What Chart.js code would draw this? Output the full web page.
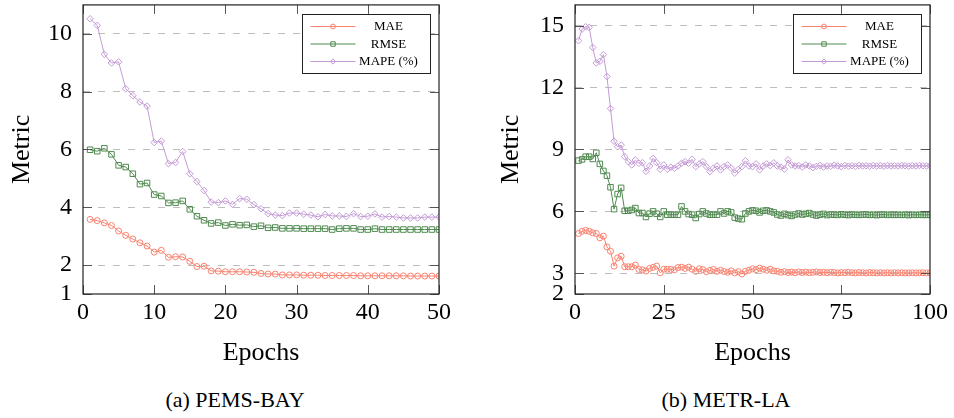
<!DOCTYPE html>
<html>
<head>
<meta charset="utf-8">
<script src="https://cdn.jsdelivr.net/npm/chart.js@4/dist/chart.umd.min.js"></script>
<style>
  html, body { margin: 0; padding: 0; background: #fff; }
  #wrap { position: relative; width: 954px; height: 418px; overflow: hidden; }
  .cv { position: absolute; top: 0; }
  .cap { position: absolute; top: 388px; height: 24px; line-height: 24px; font-family: "Liberation Serif", "Times New Roman", serif; font-size: 22px; color: #000; white-space: nowrap; transform: translateX(-50%); }
</style>
</head>
<body>
<div id="wrap">
  <div class="cv" style="left:0;width:460px;height:380px;"><canvas id="c1" width="460" height="380"></canvas></div>
  <div class="cv" style="left:477px;width:477px;height:380px;"><canvas id="c2" width="477" height="380"></canvas></div>
  <div class="cap" style="left:235px;">(a) PEMS-BAY</div>
  <div class="cap" style="left:726px;">(b) METR-LA</div>
</div>
<script>
// ---------------- data ----------------
const seriesNames = ['MAE', 'RMSE', 'MAPE (%)'];

const epochsPEMS = Array.from({length: 50}, (_, i) => i + 1);
const maePEMS = [3.58,3.54,3.46,3.37,3.18,3.03,2.90,2.77,2.66,2.45,
                 2.51,2.27,2.29,2.28,2.13,1.95,1.96,1.80,1.79,1.77,
                 1.77,1.77,1.76,1.75,1.71,1.69,1.69,1.66,1.66,1.66,
                 1.65,1.65,1.65,1.64,1.64,1.64,1.64,1.64,1.63,1.63,
                 1.63,1.63,1.63,1.63,1.63,1.62,1.62,1.62,1.62,1.62];
const rmsePEMS = [5.99,5.94,6.04,5.83,5.45,5.39,5.16,4.80,4.84,4.44,
                  4.39,4.15,4.16,4.22,3.93,3.69,3.55,3.44,3.47,3.37,
                  3.41,3.38,3.39,3.33,3.36,3.29,3.30,3.27,3.27,3.27,
                  3.26,3.26,3.26,3.26,3.23,3.26,3.27,3.27,3.23,3.23,
                  3.26,3.23,3.23,3.23,3.23,3.23,3.23,3.23,3.23,3.23];
const mapePEMS = [10.52,10.29,9.29,8.99,9.03,8.10,7.86,7.64,7.50,6.24,
                  6.29,5.51,5.55,5.93,5.16,4.89,4.58,4.18,4.16,4.22,
                  4.10,4.30,4.28,4.09,3.95,3.78,3.73,3.71,3.80,3.80,
                  3.76,3.73,3.67,3.75,3.70,3.70,3.68,3.78,3.68,3.69,
                  3.77,3.66,3.68,3.66,3.63,3.63,3.63,3.66,3.66,3.66];

const epochsMETR = Array.from({length: 100}, (_, i) => i + 1);
const maeMETR = [4.93,5.04,5.08,5.04,4.96,4.93,4.72,4.80,4.28,4.07,
                 3.35,3.75,3.83,3.32,3.32,3.32,3.40,3.19,3.17,3.11,
                 3.24,3.29,3.35,3.03,3.20,3.20,3.19,3.17,3.28,3.30,
                 3.24,3.30,3.20,3.10,3.22,3.18,3.08,3.14,3.19,3.10,
                 3.15,3.09,3.05,3.12,3.02,3.08,2.97,3.10,3.15,3.22,
                 3.18,3.25,3.20,3.15,3.20,3.12,3.10,3.05,3.08,3.04,
                 3.06,3.03,3.07,3.04,3.06,3.03,3.05,3.07,3.04,3.05,
                 3.03,3.05,3.04,3.02,3.04,3.03,3.05,3.03,3.02,3.04,
                 3.03,3.02,3.04,3.03,3.02,3.03,3.02,3.03,3.02,3.03,
                 3.02,3.03,3.02,3.02,3.03,3.02,3.02,3.03,3.02,3.02];
const rmseMETR = [8.46,8.52,8.65,8.65,8.54,8.84,8.30,7.96,7.73,7.17,
                  6.11,6.84,7.14,6.03,6.03,6.07,6.16,5.92,5.92,5.73,
                  5.89,6.00,5.89,5.73,6.00,5.84,5.84,5.84,5.84,6.24,
                  6.00,5.87,5.84,5.68,5.87,6.00,5.90,5.84,5.84,5.84,
                  6.00,5.90,6.00,5.95,5.70,5.65,5.62,5.90,6.00,6.05,
                  6.03,5.95,6.03,6.05,6.00,5.95,5.85,5.80,5.88,5.82,
                  5.78,5.85,5.90,5.85,5.88,5.92,5.85,5.80,5.84,5.88,
                  5.82,5.85,5.84,5.83,5.86,5.84,5.82,5.85,5.84,5.83,
                  5.84,5.85,5.83,5.84,5.82,5.84,5.85,5.83,5.84,5.83,
                  5.84,5.83,5.84,5.82,5.84,5.83,5.84,5.83,5.83,5.84];
const mapeMETR = [14.27,14.83,14.94,14.91,13.94,13.19,13.27,13.59,12.53,10.98,
                  9.40,9.13,9.21,8.65,8.41,8.25,8.49,8.33,8.36,7.94,
                  8.20,8.57,8.36,8.04,8.25,8.04,8.14,8.09,8.20,8.33,
                  8.41,8.33,8.52,8.17,8.30,8.41,8.17,7.93,8.09,8.20,
                  8.01,8.17,8.25,8.09,7.85,8.03,8.17,8.45,8.20,8.17,
                  8.30,8.01,8.20,8.30,8.22,8.35,8.20,8.15,8.05,8.50,
                  8.25,8.20,8.22,8.15,8.25,8.20,8.12,8.18,8.22,8.15,
                  8.20,8.18,8.24,8.20,8.17,8.22,8.19,8.21,8.18,8.22,
                  8.20,8.21,8.19,8.22,8.20,8.21,8.19,8.22,8.20,8.21,
                  8.20,8.22,8.21,8.19,8.21,8.20,8.22,8.21,8.20,8.21];

const yTicksPEMS = [1, 2, 4, 6, 8, 10];
const yTicksMETR = [2, 3, 6, 9, 12, 15];
const xTicksPEMS = [0, 10, 20, 30, 40, 50];
const xTicksMETR = [0, 25, 50, 75, 100];

// ---------------- styling ----------------
const SERIF = '"Liberation Serif", "Times New Roman", serif';
const COLORS = ['#f98270', '#4f8a4f', '#c49bd6'];
const STYLES = ['circle', 'rect', 'rectRot'];
const RADII = [3, 3.9, 3.3];

function pts(xs, ys) { return xs.map((x, i) => ({x: x, y: ys[i]})); }

function drawMarker(ctx, style, x, y, r, color) {
  ctx.save();
  ctx.strokeStyle = color; ctx.lineWidth = 1;
  ctx.beginPath();
  if (style === 'circle') {
    ctx.arc(x, y, r, 0, Math.PI * 2);
  } else if (style === 'rect') {
    const s = r * Math.SQRT1_2;
    ctx.rect(x - s, y - s, 2 * s, 2 * s);
  } else {
    ctx.moveTo(x, y - r); ctx.lineTo(x + r, y); ctx.lineTo(x, y + r); ctx.lineTo(x - r, y); ctx.closePath();
  }
  ctx.stroke();
  ctx.restore();
}

const framePlugin = {
  id: 'frameTicks',
  afterDatasetsDraw(chart) {
    const ctx = chart.ctx, ca = chart.chartArea;
    const xs = chart.scales.x, ys = chart.scales.y;
    const TL = 9;
    ctx.save();
    ctx.strokeStyle = '#555'; ctx.lineWidth = 1;
    ctx.beginPath();
    xs.ticks.forEach(t => {
      const px = Math.round(xs.getPixelForValue(t.value)) + 0.5;
      ctx.moveTo(px, ca.bottom); ctx.lineTo(px, ca.bottom - TL);
      ctx.moveTo(px, ca.top); ctx.lineTo(px, ca.top + TL);
    });
    ys.ticks.forEach(t => {
      const py = Math.round(ys.getPixelForValue(t.value)) + 0.5;
      ctx.moveTo(ca.left, py); ctx.lineTo(ca.left + TL, py);
      ctx.moveTo(ca.right, py); ctx.lineTo(ca.right - TL, py);
    });
    ctx.stroke();
    ctx.strokeStyle = '#222'; ctx.lineWidth = 1.2;
    ctx.strokeRect(ca.left, ca.top, ca.right - ca.left, ca.bottom - ca.top);
    ctx.restore();
  }
};

const legendPlugin = {
  id: 'boxLegend',
  afterDatasetsDraw(chart) {
    const ctx = chart.ctx, ca = chart.chartArea;
    const w = 128, h = 59;
    const x0 = Math.round(ca.right - 9 - w) + 0.5, y0 = Math.round(ca.top + 9) + 0.5;
    ctx.save();
    ctx.fillStyle = '#fff'; ctx.fillRect(x0, y0, w, h);
    ctx.strokeStyle = '#222'; ctx.lineWidth = 1; ctx.strokeRect(x0, y0, w, h);
    chart.data.datasets.forEach((ds, i) => {
      const yy = y0 + 12 + i * 17.5;
      ctx.strokeStyle = ds.borderColor; ctx.lineWidth = 1;
      ctx.beginPath(); ctx.moveTo(x0 + 8, yy); ctx.lineTo(x0 + 53, yy); ctx.stroke();
      drawMarker(ctx, ds.pointStyle, x0 + 30.5, yy, ds.pointRadius * 0.8, ds.borderColor);
      ctx.fillStyle = '#000';
      ctx.font = '13px ' + SERIF;
      ctx.textAlign = 'center'; ctx.textBaseline = 'middle';
      ctx.fillText(ds.label, x0 + 86, yy + 0.5);
    });
    ctx.restore();
  }
};

function makeChart(id, xsArr, series, xTicks, yTicks, xMax, yMin, yMax, yAxisWidth, padRight, titlePadTop) {
  const datasets = series.map((vals, i) => ({
    label: seriesNames[i],
    data: pts(xsArr, vals),
    borderColor: COLORS[i],
    backgroundColor: 'rgba(0,0,0,0)',
    borderWidth: 1,
    tension: 0,
    pointStyle: STYLES[i],
    pointRadius: RADII[i],
    pointBorderWidth: 1,
    pointBackgroundColor: 'rgba(0,0,0,0)',
    pointBorderColor: COLORS[i],
    pointHoverRadius: RADII[i]
  }));
  return new Chart(document.getElementById(id), {
    type: 'line',
    data: { datasets: datasets },
    plugins: [framePlugin, legendPlugin],
    options: {
      responsive: false,
      animation: false,
      events: [],
      layout: { padding: { left: 0, top: 4, right: padRight, bottom: 0 } },
      plugins: { legend: { display: false }, tooltip: { enabled: false } },
      scales: {
        x: {
          type: 'linear', min: 0, max: xMax,
          afterBuildTicks: s => { s.ticks = xTicks.map(v => ({value: v})); },
          afterFit: s => { s.height = 86; s.paddingLeft = 0; s.paddingRight = 0; s.paddingTop = 0; s.paddingBottom = 0; },
          grid: { display: false, drawTicks: false },
          border: { display: false },
          ticks: { autoSkip: false, maxRotation: 0, padding: 4, color: '#000', font: { family: SERIF, size: 24 } },
          title: { display: true, text: 'Epochs', color: '#000', font: { family: SERIF, size: 26 }, padding: { top: 0, bottom: 11 } }
        },
        y: {
          type: 'linear', min: yMin, max: yMax,
          afterBuildTicks: s => { s.ticks = yTicks.map(v => ({value: v})); },
          afterFit: s => { s.width = yAxisWidth; s.paddingTop = 0; s.paddingBottom = 0; s.paddingLeft = 0; s.paddingRight = 0; },
          grid: {
            drawTicks: false,
            lineWidth: 1,
            color: c => (c.tick && c.tick.value === yMin) ? 'rgba(0,0,0,0)' : '#bdbdbd'
          },
          border: { display: false, dash: [7, 8] },
          ticks: { autoSkip: false, padding: 11, color: '#000', font: { family: SERIF, size: 24 } },
          title: { display: true, text: 'Metric', color: '#000', font: { family: SERIF, size: 26 }, padding: { top: titlePadTop, bottom: 0 } }
        }
      }
    }
  });
}

makeChart('c1', epochsPEMS, [maePEMS, rmsePEMS, mapePEMS], xTicksPEMS, yTicksPEMS, 50, 1, 11, 83, 21, 7);
makeChart('c2', epochsMETR, [maeMETR, rmseMETR, mapeMETR], xTicksMETR, yTicksMETR, 100, 2, 16, 98, 24, 19);
</script>
</body>
</html>
